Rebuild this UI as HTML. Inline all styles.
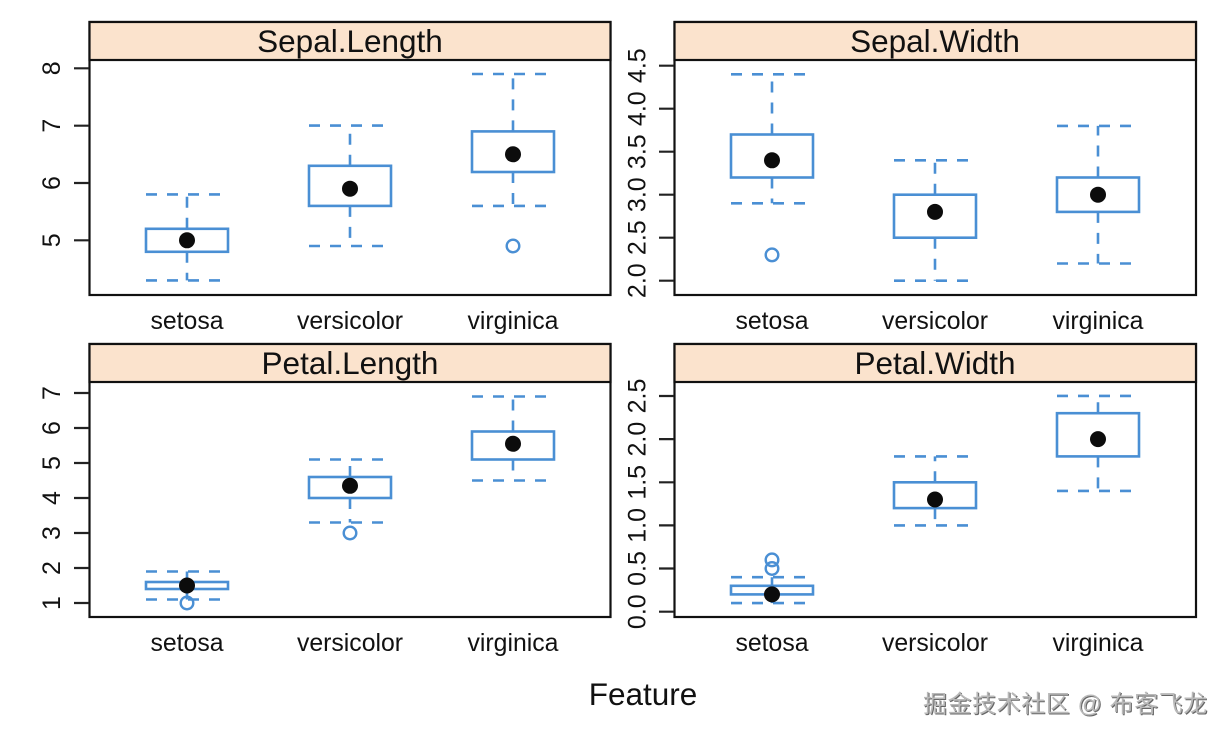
<!DOCTYPE html>
<html>
<head>
<meta charset="utf-8">
<style>
html,body{margin:0;padding:0;background:#fff;width:1230px;height:738px;overflow:hidden}
svg{position:absolute;left:0;top:0}
text{font-family:"Liberation Sans",Arial,sans-serif;fill:#111}
.s{font-size:31.5px;text-anchor:middle}
.x{font-size:24.8px;text-anchor:middle}
.y{font-size:25px;text-anchor:middle}
.f{fill:none;stroke:#111;stroke-width:2.2}
.st{fill:#fbe3cd;stroke:#111;stroke-width:2.2}
.t{stroke:#222;stroke-width:2.2;fill:none}
.b{fill:none;stroke:#4a8fd4;stroke-width:2.6}
.d{fill:none;stroke:#4a8fd4;stroke-width:2.6;stroke-dasharray:11 10}
.o{fill:none;stroke:#4a8fd4;stroke-width:2.4}
.m{fill:#0c0c0c}
#wm{position:absolute;left:923px;top:684px;white-space:nowrap;font:24px "Liberation Sans","Noto Sans CJK SC",sans-serif;letter-spacing:.55px;color:#b9b9b9;text-shadow:1px 1px 0 #666,-1px -1px 0 #fff}
</style>
</head>
<body>
<svg width="1230" height="738" viewBox="0 0 1230 738" xmlns="http://www.w3.org/2000/svg">
<!-- Panel 1 -->
<rect class="f" x="89.5" y="22" width="521" height="273"/>
<rect class="st" x="89.5" y="22" width="521" height="38"/>
<text class="s" x="350" y="52">Sepal.Length</text>
<path class="t" d="M74 68.3H89M74 125.7H89M74 183H89M74 240.3H89"/>
<text class="y" transform="translate(60,68.3) rotate(-90)">8</text>
<text class="y" transform="translate(60,125.7) rotate(-90)">7</text>
<text class="y" transform="translate(60,183) rotate(-90)">6</text>
<text class="y" transform="translate(60,240.3) rotate(-90)">5</text>
<rect class="b" x="146" y="228.8" width="82" height="23"/>
<path class="d" d="M187 228.8V194.4M187 251.8V280.4M146 194.4H228M146 280.4H228"/>
<circle class="m" cx="187" cy="240.3" r="8"/>
<rect class="b" x="309" y="165.8" width="82" height="40.1"/>
<path class="d" d="M350 165.8V125.6M350 205.9V246M309 125.6H391M309 246H391"/>
<circle class="m" cx="350" cy="188.7" r="8"/>
<rect class="b" x="472" y="131.4" width="82" height="40.6"/>
<path class="d" d="M513 131.4V74M513 172V205.9M472 74H554M472 205.9H554"/>
<circle class="m" cx="513" cy="154.3" r="8"/>
<circle class="o" cx="513" cy="246" r="6.3"/>
<text class="x" x="187" y="329">setosa</text>
<text class="x" x="350" y="329">versicolor</text>
<text class="x" x="513" y="329">virginica</text>

<!-- Panel 2 -->
<rect class="f" x="674.5" y="22" width="521.5" height="273"/>
<rect class="st" x="674.5" y="22" width="521.5" height="38"/>
<text class="s" x="935" y="52">Sepal.Width</text>
<path class="t" d="M659 280.7H674M659 237.7H674M659 194.7H674M659 151.7H674M659 108.7H674M659 65.7H674"/>
<text class="y" transform="translate(645.5,280.7) rotate(-90)">2.0</text>
<text class="y" transform="translate(645.5,237.7) rotate(-90)">2.5</text>
<text class="y" transform="translate(645.5,194.7) rotate(-90)">3.0</text>
<text class="y" transform="translate(645.5,151.7) rotate(-90)">3.5</text>
<text class="y" transform="translate(645.5,108.7) rotate(-90)">4.0</text>
<text class="y" transform="translate(645.5,65.7) rotate(-90)">4.5</text>
<rect class="b" x="731" y="134.5" width="82" height="43"/>
<path class="d" d="M772 134.5V74.3M772 177.5V203.3M731 74.3H813M731 203.3H813"/>
<circle class="m" cx="772" cy="160.3" r="8"/>
<circle class="o" cx="772" cy="254.9" r="6.3"/>
<rect class="b" x="894" y="194.7" width="82" height="43"/>
<path class="d" d="M935 194.7V160.3M935 237.7V280.7M894 160.3H976M894 280.7H976"/>
<circle class="m" cx="935" cy="211.9" r="8"/>
<rect class="b" x="1057" y="177.5" width="82" height="34.4"/>
<path class="d" d="M1098 177.5V125.9M1098 211.9V263.5M1057 125.9H1139M1057 263.5H1139"/>
<circle class="m" cx="1098" cy="194.7" r="8"/>
<text class="x" x="772" y="329">setosa</text>
<text class="x" x="935" y="329">versicolor</text>
<text class="x" x="1098" y="329">virginica</text>

<!-- Panel 3 -->
<rect class="f" x="89.5" y="344" width="521" height="273"/>
<rect class="st" x="89.5" y="344" width="521" height="38"/>
<text class="s" x="350" y="374">Petal.Length</text>
<path class="t" d="M74 393H89M74 428H89M74 463H89M74 498H89M74 533H89M74 568H89M74 603H89"/>
<text class="y" transform="translate(60,393) rotate(-90)">7</text>
<text class="y" transform="translate(60,428) rotate(-90)">6</text>
<text class="y" transform="translate(60,463) rotate(-90)">5</text>
<text class="y" transform="translate(60,498) rotate(-90)">4</text>
<text class="y" transform="translate(60,533) rotate(-90)">3</text>
<text class="y" transform="translate(60,568) rotate(-90)">2</text>
<text class="y" transform="translate(60,603) rotate(-90)">1</text>
<rect class="b" x="146" y="582" width="82" height="7"/>
<path class="d" d="M187 582V571.5M187 589V599.5M146 571.5H228M146 599.5H228"/>
<circle class="o" cx="187" cy="603" r="6.3"/>
<circle class="m" cx="187" cy="585.5" r="8"/>
<rect class="b" x="309" y="477" width="82" height="21"/>
<path class="d" d="M350 477V459.5M350 498V522.5M309 459.5H391M309 522.5H391"/>
<circle class="m" cx="350" cy="485.8" r="8"/>
<circle class="o" cx="350" cy="533" r="6.3"/>
<rect class="b" x="472" y="431.5" width="82" height="28"/>
<path class="d" d="M513 431.5V396.5M513 459.5V480.5M472 396.5H554M472 480.5H554"/>
<circle class="m" cx="513" cy="443.8" r="8"/>
<text class="x" x="187" y="651">setosa</text>
<text class="x" x="350" y="651">versicolor</text>
<text class="x" x="513" y="651">virginica</text>

<!-- Panel 4 -->
<rect class="f" x="674.5" y="344" width="521.5" height="273"/>
<rect class="st" x="674.5" y="344" width="521.5" height="38"/>
<text class="s" x="935" y="374">Petal.Width</text>
<path class="t" d="M659 611.7H674M659 568.5H674M659 525.4H674M659 482.3H674M659 439.1H674M659 396H674"/>
<text class="y" transform="translate(645.5,611.7) rotate(-90)">0.0</text>
<text class="y" transform="translate(645.5,568.5) rotate(-90)">0.5</text>
<text class="y" transform="translate(645.5,525.4) rotate(-90)">1.0</text>
<text class="y" transform="translate(645.5,482.3) rotate(-90)">1.5</text>
<text class="y" transform="translate(645.5,439.1) rotate(-90)">2.0</text>
<text class="y" transform="translate(645.5,396) rotate(-90)">2.5</text>
<rect class="b" x="731" y="585.8" width="82" height="8.6"/>
<path class="d" d="M772 585.8V577.2M772 594.4V603.1M731 577.2H813M731 603.1H813"/>
<circle class="o" cx="772" cy="559.9" r="6.3"/>
<circle class="o" cx="772" cy="568.5" r="6.3"/>
<circle class="m" cx="772" cy="594.4" r="8"/>
<rect class="b" x="894" y="482.3" width="82" height="25.8"/>
<path class="d" d="M935 482.3V456.4M935 508.1V525.4M894 456.4H976M894 525.4H976"/>
<circle class="m" cx="935" cy="499.5" r="8"/>
<rect class="b" x="1057" y="413.2" width="82" height="43.2"/>
<path class="d" d="M1098 413.2V395.9M1098 456.4V490.9M1057 395.9H1139M1057 490.9H1139"/>
<circle class="m" cx="1098" cy="439.1" r="8"/>
<text class="x" x="772" y="651">setosa</text>
<text class="x" x="935" y="651">versicolor</text>
<text class="x" x="1098" y="651">virginica</text>

<text x="643" y="705" text-anchor="middle" style="font-size:31.5px">Feature</text>
</svg>
<div id="wm">掘金技术社区 @ 布客飞龙</div>
</body>
</html>
